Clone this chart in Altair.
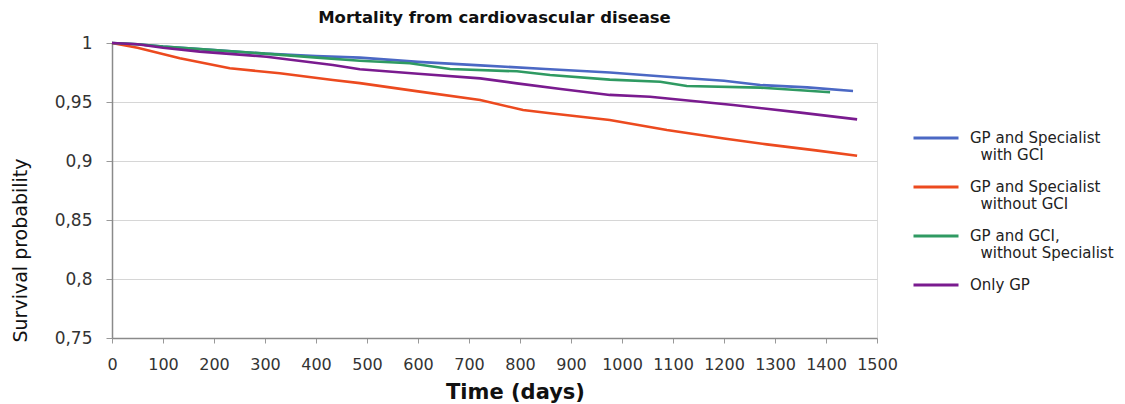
import altair as alt
import pandas as pd

FONT = "DejaVu Sans"
INDENT = "\u200b\u2002\u2009"

series_names = [
    "GP and Specialist|" + INDENT + "with GCI",
    "GP and Specialist|" + INDENT + "without GCI",
    "GP and GCI,|" + INDENT + "without Specialist",
    "Only GP",
]
series_colors = ["#4b68c4", "#ec4a1f", "#2f9a62", "#7a1b8f"]

blue_t = [0, 50, 100, 200, 300, 400, 486, 600, 722, 850, 976, 1114, 1200, 1271, 1363, 1453]
blue_v = [1, 0.999, 0.997, 0.994, 0.991, 0.989, 0.9876, 0.984, 0.981, 0.978, 0.975, 0.9705, 0.968, 0.9644, 0.9624, 0.9593]

red_t = [0, 50, 133, 231, 329, 433, 486, 600, 722, 806, 859, 976, 1088, 1200, 1284, 1380, 1461]
red_v = [1, 0.996, 0.987, 0.9786, 0.9743, 0.9686, 0.966, 0.959, 0.9517, 0.9432, 0.9404, 0.9347, 0.9263, 0.919, 0.9141, 0.909, 0.9045]

green_t = [0, 50, 100, 200, 300, 402, 486, 584, 663, 794, 859, 976, 1075, 1127, 1271, 1350, 1408]
green_v = [1, 0.999, 0.997, 0.994, 0.991, 0.9876, 0.985, 0.9828, 0.978, 0.976, 0.9729, 0.969, 0.9672, 0.9636, 0.9622, 0.960, 0.9582]

purple_t = [0, 50, 100, 172, 303, 433, 486, 600, 722, 794, 880, 976, 1055, 1218, 1350, 1461]
purple_v = [1, 0.999, 0.996, 0.9927, 0.9884, 0.9814, 0.9777, 0.974, 0.970, 0.9658, 0.961, 0.956, 0.9545, 0.9475, 0.941, 0.9353]

rows = []
for name, ts, vs in zip(series_names, [blue_t, red_t, green_t, purple_t], [blue_v, red_v, green_v, purple_v]):
    for i, (t, v) in enumerate(zip(ts, vs)):
        rows.append({"series": name, "t": t, "v": v, "order": i})
df = pd.DataFrame(rows)

x_ticks = list(range(0, 1501, 100))
y_ticks = [0.75, 0.8, 0.85, 0.9, 0.95, 1.0]

lines = alt.Chart(df).mark_line(strokeWidth=2.6).encode(
    x=alt.X("t:Q", scale=alt.Scale(domain=[0, 1500], nice=False),
            axis=alt.Axis(values=x_ticks, title="Time (days)", grid=False, format="d",
                          labelOverlap=False, labelFlush=False,
                          labelFont=FONT, labelFontSize=16, labelColor="#333333",
                          labelPadding=13, tickSize=5, tickColor="#999999",
                          domainColor="#8a8a8a", domainWidth=1.5,
                          titleFont=FONT, titleFontSize=21, titleFontWeight="bold",
                          titleColor="#111111", titlePadding=9, titleX=403)),
    y=alt.Y("v:Q", scale=alt.Scale(domain=[0.75, 1.0], nice=False, zero=False),
            axis=alt.Axis(values=y_ticks, title="Survival probability",
                          labelExpr="replace(format(datum.value, '.2~f'), '.', ',')",
                          labelFont=FONT, labelFontSize=17, labelColor="#333333",
                          labelPadding=14, tickSize=6, tickColor="#999999",
                          domainColor="#8a8a8a", domainWidth=1.5,
                          gridColor="#d6d6d6", gridWidth=1.2,
                          titleFont=FONT, titleFontSize=19, titleFontWeight="normal",
                          titleColor="#111111", titleAngle=270, titleX=-92, titleY=207,
                          titleAlign="center", titleBaseline="middle")),
    color=alt.Color("series:N",
                    scale=alt.Scale(domain=series_names, range=series_colors),
                    legend=alt.Legend(title=None, orient="none", legendX=800, legendY=71,
                                      symbolType="stroke", symbolSize=2025,
                                      symbolStrokeWidth=3, labelFont=FONT,
                                      labelFontSize=15, labelColor="#222222",
                                      labelExpr="split(datum.label, '|')",
                                      labelBaseline="middle", labelOffset=10,
                                      rowPadding=0, padding=0, labelLimit=400)),
    order="order:Q",
)

chart = lines.properties(
    width=765, height=295,
    title=alt.TitleParams("Mortality from cardiovascular disease", font=FONT,
                          fontSize=16.5, fontWeight="bold", color="#111111",
                          anchor="middle", offset=8),
    autosize=alt.AutoSizeParams(type="none"),
    padding={"left": 104, "top": 35, "right": 240, "bottom": 66},
).configure_view(stroke="#aaaaaa", strokeWidth=1.5).configure(background="white")

chart.save("out.html", embed_options={"renderer": "svg", "actions": False})
